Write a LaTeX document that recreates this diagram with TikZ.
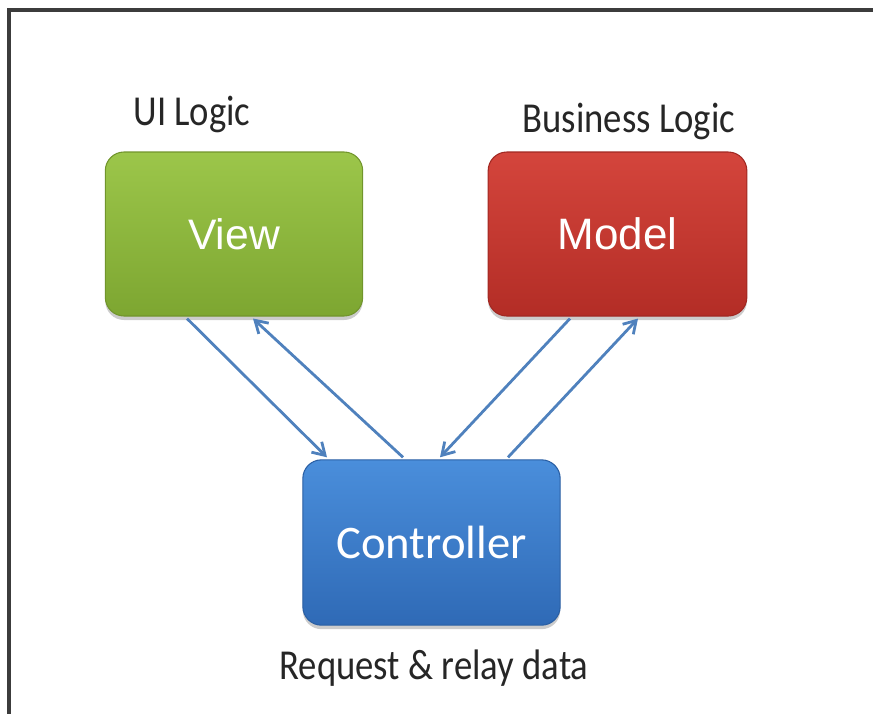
\documentclass[tikz,border=0pt]{standalone}
\usepackage{fontspec}
\setmainfont{Carlito}
\newfontfamily\boxfont{Liberation Sans}
\newfontfamily\labelfont[FakeStretch=0.86]{Carlito}
\usepackage{xcolor}
\usetikzlibrary{arrows.meta,shadows,calc}
\definecolor{ViewGreen}{HTML}{9CC64A}
\definecolor{ViewGreenDark}{HTML}{7DA631}
\definecolor{ModelRed}{HTML}{D4453C}
\definecolor{ModelRedDark}{HTML}{B32D26}
\definecolor{CtrlBlue}{HTML}{4A8EDB}
\definecolor{CtrlBlueDark}{HTML}{2F6AB6}
\definecolor{FlowBlue}{HTML}{4F81BD}
\definecolor{FrameGray}{HTML}{3C3C3C}

\tikzset{
  mvcbox/.style={rounded corners=14pt, minimum width=193pt, minimum height=123pt,
    text=white, line width=0.8pt,
    drop shadow={shadow xshift=0pt, shadow yshift=-3pt, opacity=0.4}},
  flow/.style={draw=FlowBlue, line width=2.1pt, -{Straight Barb[length=9pt,width=11pt]}},
  tag/.style={inner sep=0.75pt, text=black!85, font=\labelfont\fontsize{32}{36}\selectfont}
}

\begin{document}
\begin{tikzpicture}[x=0.75pt,y=0.75pt,yscale=-1,xscale=1]
		\useasboundingbox (0,0) rectangle (873,722);

		% Frame (top and left edges only)
		\draw[FrameGray, line width=2.6pt] (7,10) -- (873,10);
		\draw[FrameGray, line width=2.6pt] (9,10) -- (9,714);

		% The three boxes
		\node[mvcbox, top color=ViewGreen, bottom color=ViewGreenDark, draw=ViewGreenDark!90!black]
		(view) at (234,234) {\boxfont\fontsize{32}{36}\selectfont View};
		\node[mvcbox, top color=ModelRed, bottom color=ModelRedDark, draw=ModelRedDark!90!black,
		minimum width=194pt] (model) at (617.5,234) {\boxfont\fontsize{33}{38}\selectfont Model};
		\node[mvcbox, top color=CtrlBlue, bottom color=CtrlBlueDark, draw=CtrlBlueDark!90!black,
		minimum height=124pt] (ctrl) at (431.5,542.5) {\fontsize{35}{40}\selectfont Controller};

		% Labels
		\node[tag] (uilogic) at (192,114) {UI Logic};
		\node[tag] (bizlogic) at (629,121) {Business Logic};
		\node[tag] (relay) at (434,668) {Request \& relay data};

		% Arrows between view / model and controller
		\draw[flow] ($(view.south)+(-47,2)$) -- ($(ctrl.north)+(-104.5,-2)$);
		\draw[flow] ($(ctrl.north)+(-28.5,-2)$) -- ($(view.south)+(19,2)$);
		\draw[flow] ($(model.south)+(-47.5,2)$) -- ($(ctrl.north)+(8.5,-2)$);
		\draw[flow] ($(ctrl.north)+(76.5,-2)$) -- ($(model.south)+(20.5,2)$);
\end{tikzpicture}
\end{document}
